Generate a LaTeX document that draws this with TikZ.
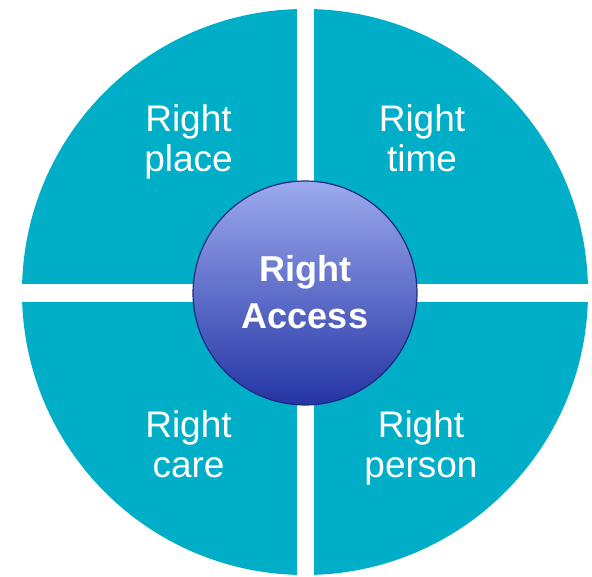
\documentclass[tikz,border=0pt]{standalone}
\usepackage{fontspec}
\setmainfont{Liberation Sans}
\definecolor{wheelteal}{RGB}{0,174,199}
\definecolor{hubtop}{RGB}{156,170,238}
\definecolor{hubbottom}{RGB}{36,52,164}
\definecolor{hubedge}{RGB}{28,40,130}
\begin{document}
\begin{tikzpicture}[x=1pt,y=-1pt,
  quarterlabel/.style={text=white, font=\fontsize{37}{40}\selectfont, align=center, inner sep=0pt},
  hublabel/.style={text=white, font=\bfseries\fontsize{36}{47}\selectfont, align=center, inner sep=0pt},
  gap/.style={white, line width=17.5pt}]
\useasboundingbox (0,0) rectangle (592,577);
% outer wheel
\fill[wheelteal] (305,292) circle (283pt);
% white gaps between quarters
\draw[gap] (305.5,0) -- (305.5,577);
\draw[gap] (0,293) -- (592,293);
% hub
\shadedraw[top color=hubtop, bottom color=hubbottom, draw=hubedge, line width=1.2pt] (305,293) circle (112pt);
% labels
\node[quarterlabel] (place)  at (188.5,144) {\strut Right\\place\strut};
\node[quarterlabel] (time)   at (422,144)   {\strut Right\\time\strut};
\node[quarterlabel] (care)   at (188.5,449) {\strut Right\\care\strut};
\node[quarterlabel] (person) at (421,449)   {\strut Right\\person\strut};
\node[hublabel] (access) at (305,296) {\strut Right\\Access\strut};
\end{tikzpicture}
\end{document}
